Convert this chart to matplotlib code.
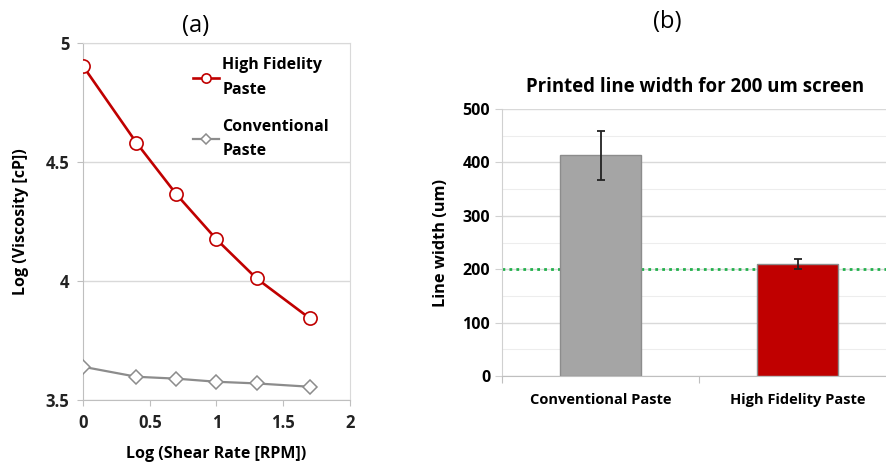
import numpy as np
import matplotlib.pyplot as plt
from matplotlib.ticker import MultipleLocator

# (a) viscosity vs shear rate
shear_log = [0, 0.4, 0.7, 1.0, 1.3, 1.7]
visc_high_fidelity = [4.903, 4.581, 4.364, 4.175, 4.011, 3.843]
visc_conventional = [3.640, 3.598, 3.590, 3.577, 3.570, 3.556]

# (b) printed line width
paste_names = ["Conventional Paste", "High Fidelity Paste"]
line_width = [413, 210]
line_width_err = [46, 10]
screen_width = 200

plt.rcParams['font.family'] = ['Open Sans', 'DejaVu Sans']

red = "#C00000"
gray_line = "#8C8C8C"
grid_c = "#D9D9D9"

fig = plt.figure(figsize=(8.86, 4.62), dpi=100)

# ---- panel (a)
ax1 = fig.add_axes([0.0937, 0.134, 0.3013, 0.773])
ax1.plot(shear_log, visc_high_fidelity, color=red, lw=1.9, marker='o', ms=9.5,
         mfc='white', mec=red, mew=1.2, label="High Fidelity\nPaste", zorder=3)
ax1.plot(shear_log, visc_conventional, color=gray_line, lw=1.6, marker='D', ms=7.5,
         mfc='white', mec=gray_line, mew=1.1, label="Conventional\nPaste", zorder=3)
ax1.set_xlim(0, 2)
ax1.set_ylim(3.5, 5)
ax1.set_xticks([0, 0.5, 1, 1.5, 2])
ax1.set_xticklabels(["0", "0.5", "1", "1.5", "2"])
ax1.set_yticks([3.5, 4, 4.5, 5])
ax1.set_yticklabels(["3.5", "4", "4.5", "5"])
ax1.yaxis.grid(True, color=grid_c, lw=1)
ax1.set_axisbelow(True)
for s in ["top", "right"]:
    ax1.spines[s].set_color(grid_c)
for s in ["left", "bottom"]:
    ax1.spines[s].set_color("#BFBFBF")
ax1.tick_params(colors="#BFBFBF", labelcolor="#222222", labelsize=12, length=4,
                direction='out')
ax1.tick_params(axis='x', pad=6)
ax1.tick_params(axis='y', pad=6)
for lab in ax1.get_xticklabels() + ax1.get_yticklabels():
    lab.set_fontweight('bold')
ax1.set_xlabel("Log (Shear Rate [RPM])", fontsize=11.5, fontweight='bold', labelpad=10)
ax1.set_ylabel("Log (Viscosity [cP])", fontsize=11.5, fontweight='bold', labelpad=12)
leg = ax1.legend(loc='upper left', bbox_to_anchor=(0.36, 1.0), frameon=False,
                 handlelength=1.6, handletextpad=0.2, labelspacing=1.3,
                 prop={'weight': 'bold', 'size': 11.5}, markerscale=0.7)
for t in leg.get_texts():
    t.set_linespacing(1.7)
ax1.set_title("(a)", fontsize=17, pad=8, x=0.42)

# ---- panel (b)
ax2 = fig.add_axes([0.5666, 0.186, 0.4447, 0.578])
x = np.arange(len(paste_names))
ax2.axhline(screen_width, color="#22B14C", lw=2, ls=(0, (1, 1.5)), zorder=1)
ax2.bar(x, line_width, width=0.41, color=["#A5A5A5", red], edgecolor="#8C8C8C",
        lw=1, zorder=2)
ax2.errorbar(x, line_width, yerr=line_width_err, fmt='none', ecolor="#222222",
             elinewidth=1.3, capsize=3, capthick=1.3, zorder=3)
ax2.set_xlim(-0.5, 1.5)
ax2.set_ylim(0, 500)
ax2.yaxis.set_major_locator(MultipleLocator(100))
ax2.yaxis.set_minor_locator(MultipleLocator(50))
ax2.yaxis.grid(True, which='major', color=grid_c, lw=1)
ax2.yaxis.grid(True, which='minor', color="#EDEDED", lw=0.8)
ax2.set_axisbelow(True)
ax2.set_xticks([-0.5, 0.5], minor=False)
ax2.set_xticklabels(["", ""])
ax2.set_xticks(x, minor=True)
ax2.set_xticklabels(paste_names, minor=True)
ax2.tick_params(axis='x', which='minor', length=0, labelsize=10.5, pad=12)
ax2.tick_params(axis='x', which='major', length=5, color="#BFBFBF")
ax2.tick_params(axis='y', which='major', length=5, color="#D0D0D0", labelsize=11.5)
ax2.tick_params(axis='y', which='minor', length=0)
for lab in ax2.get_xticklabels(minor=True) + ax2.get_yticklabels():
    lab.set_fontweight('bold')
for s in ["top", "right"]:
    ax2.spines[s].set_visible(False)
ax2.spines["left"].set_color("#D0D0D0")
ax2.spines["bottom"].set_color("#BFBFBF")
ax2.set_ylabel("Line width (um)", fontsize=11.8, fontweight='bold', labelpad=10)
ax2.set_title("Printed line width for 200 um screen", fontsize=13.4,
              fontweight='bold', pad=12, x=0.49)

fig.text(0.753, 0.952, "(b)", fontsize=17, ha='center', va='center')

fig.savefig("out.png", dpi=100)
